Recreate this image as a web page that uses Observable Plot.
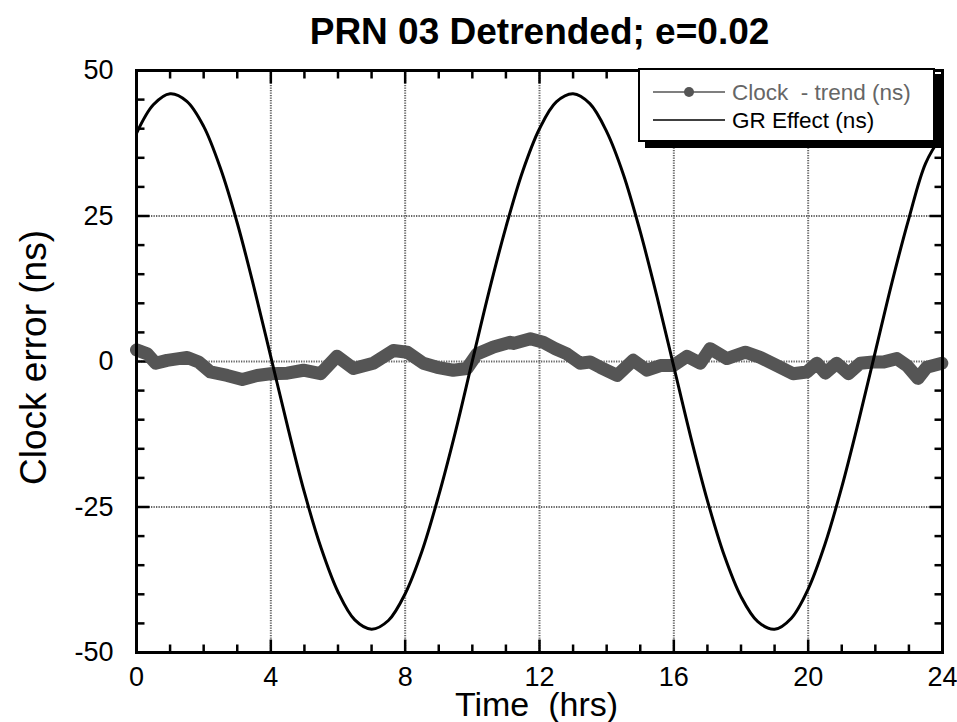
<!DOCTYPE html>
<html>
<head>
<meta charset="utf-8">
<script src="https://cdn.jsdelivr.net/npm/d3@7"></script>
<script src="https://cdn.jsdelivr.net/npm/@observablehq/plot@0.6"></script>
<style>
  html, body { margin: 0; padding: 0; background: #fff; }
  #chart { position: relative; width: 957px; height: 722px; font-family: "Liberation Sans", Arial, sans-serif; }
  #legend { position: absolute; left: 638px; top: 68px; width: 293px; height: 70px; background: #fff;
            border: 2px solid #000; box-shadow: 7px 6px 0 #000; }
  #legend text { white-space: pre; }
</style>
</head>
<body>
<div id="chart"><div id="legend"></div></div>
<script>
// ---- data ----
const title = "PRN 03 Detrended; e=0.02";
const xLabel = "Time  (hrs)";
const yLabel = "Clock error (ns)";
const seriesNames = ["Clock  - trend (ns)", "GR Effect (ns)"];

const xTicks = [0, 4, 8, 12, 16, 20, 24];
const yTicks = [-50, -25, 0, 25, 50];

// GR effect (ns), sampled every 0.5 h from 0 to 24 h
const grHours = [0,0.5,1,1.5,2,2.5,3,3.5,4,4.5,5,5.5,6,6.5,7,7.5,8,8.5,9,9.5,10,10.5,11,11.5,12,
                 12.5,13,13.5,14,14.5,15,15.5,16,16.5,17,17.5,18,18.5,19,19.5,20,20.5,21,21.5,22,22.5,23,23.5,24];
const grValues = [39.2,44.1,46.0,44.7,40.4,33.2,23.8,12.7,0.8,-11.2,-22.5,-32.1,-39.6,-44.4,-46.0,-44.5,
                  -39.9,-32.6,-23.0,-12.0,0.1,12.1,23.1,32.7,40.0,44.6,46.0,44.3,39.5,32.1,22.3,11.1,-0.9,
                  -12.9,-23.9,-33.3,-40.4,-44.7,-46.0,-44.1,-39.1,-31.4,-21.6,-10.3,1.7,13.7,24.6,34.1,39.0];

// Clock - trend (ns)
const clockHours = [0,0.32,0.57,0.91,1.51,1.85,2.2,2.7,3.15,3.59,3.99,4.49,4.97,5.48,5.97,6.46,7.05,7.65,
                    8.06,8.54,8.95,9.43,9.84,10.14,10.63,11.13,11.22,11.73,12.11,12.47,12.82,13.21,13.51,
                    13.81,14.31,14.79,15.2,15.6,15.98,16.39,16.79,17.08,17.58,18.13,18.57,19.07,19.55,19.96,
                    20.26,20.51,20.85,21.2,21.55,21.93,22.23,22.64,22.94,23.27,23.53,23.98];
const clockValues = [2.0,1.3,-0.3,0.2,0.7,-0.1,-1.8,-2.4,-3.1,-2.4,-2.1,-2.0,-1.5,-2.1,0.9,-1.2,-0.3,1.9,
                     1.6,-0.3,-1.0,-1.5,-1.2,1.3,2.5,3.3,3.1,3.9,3.3,2.2,1.3,-0.3,-0.1,-1.0,-2.4,0.2,-1.5,
                     -0.7,-0.7,0.9,-0.3,2.2,0.5,1.6,0.7,-0.7,-2.1,-1.8,-0.3,-2.0,-0.3,-2.1,-0.3,-0.1,-0.1,
                     0.5,-0.7,-2.9,-1.0,-0.3];

// ---- build ----
const gr = grHours.map((t, i) => ({t, v: grValues[i]}));
const clock = clockHours.map((t, i) => ({t, v: clockValues[i]}));

const W = 957, H = 722;
const mL = 136, mR = 15, mT = 70, mB = 70;
const fw = W - mL - mR, fh = H - mT - mB;
const xDom = [0, 24], yDom = [-50, 50];
// convert a pixel length into data units (for inward tick marks)
const pxX = px => px * (xDom[1] - xDom[0]) / fw;
const pxY = px => px * (yDom[1] - yDom[0]) / fh;

const xMajorIn = [4, 8, 12, 16, 20];
const xMinor = d3.range(1, 24).filter(d => d % 4 !== 0);
const yMajorIn = [-25, 0, 25];
const yMinor = d3.range(-45, 50, 5).filter(d => d % 25 !== 0);

// inward tick segments on all four sides (derived from the tick values above)
const tickSegs = [];
for (const [vals, len] of [[xMinor, 8], [xMajorIn, 13]]) {
  for (const v of vals) {
    tickSegs.push({x1: v, x2: v, y1: yDom[0], y2: yDom[0] + pxY(len)});
    tickSegs.push({x1: v, x2: v, y1: yDom[1], y2: yDom[1] - pxY(len)});
  }
}
for (const [vals, len] of [[yMinor, 8], [yMajorIn, 13]]) {
  for (const v of vals) {
    tickSegs.push({x1: xDom[0], x2: xDom[0] + pxX(len), y1: v, y2: v});
    tickSegs.push({x1: xDom[1], x2: xDom[1] - pxX(len), y1: v, y2: v});
  }
}

const plot = Plot.plot({
  width: W, height: H,
  marginLeft: mL, marginRight: mR, marginTop: mT, marginBottom: mB,
  style: {fontFamily: '"Liberation Sans", Arial, sans-serif', background: "#fff", color: "#000"},
  x: {domain: xDom},
  y: {domain: yDom},
  marks: [
    // dotted grid
    Plot.ruleX(xMajorIn, {stroke: "#666", strokeWidth: 2, strokeDasharray: "1.3,1.2"}),
    Plot.ruleY(yMajorIn, {stroke: "#666", strokeWidth: 2, strokeDasharray: "1.3,1.2"}),
    // inward ticks
    Plot.link(tickSegs, {x1: "x1", x2: "x2", y1: "y1", y2: "y2", stroke: "#000", strokeWidth: 2.5}),
    // series
    Plot.line(clock, {x: "t", y: "v", stroke: "#555", strokeWidth: 13, strokeLinejoin: "round", strokeLinecap: "round"}),
    Plot.line(gr, {x: "t", y: "v", stroke: "#000", strokeWidth: 3, curve: "catmull-rom"}),
    Plot.frame({stroke: "#000", strokeWidth: 3}),
    // axes
    Plot.axisX(xTicks, {tickSize: 0, tickPadding: 14, fontSize: 27, label: null, tickFormat: d => String(d)}),
    Plot.axisY(yTicks, {tickSize: 0, tickPadding: 23, fontSize: 27, label: null, tickFormat: d => String(d)}),
    // labels
    Plot.text([title], {frameAnchor: "top", lineAnchor: "middle", textAnchor: "middle", dy: -38, fontSize: 37, fontWeight: "bold"}),
    Plot.text([xLabel], {frameAnchor: "bottom", lineAnchor: "middle", textAnchor: "middle", dy: 53, dx: -3, fontSize: 34}),
    Plot.text([yLabel], {frameAnchor: "left", lineAnchor: "middle", textAnchor: "middle", dx: -102, dy: -4, rotate: -90, fontSize: 37})
  ]
});

const chart = document.getElementById("chart");
chart.insertBefore(plot, chart.firstChild);

// legend
const lg = d3.select("#legend").append("svg").attr("width", 293).attr("height", 70)
  .style("font-family", '"Liberation Sans", Arial, sans-serif');
const rows = [
  {name: seriesNames[0], color: "#555", text: "#666", dot: true, y: 22},
  {name: seriesNames[1], color: "#000", text: "#000", dot: false, y: 50}
];
rows.forEach(r => {
  lg.append("line").attr("x1", 13).attr("x2", 85).attr("y1", r.y).attr("y2", r.y)
    .attr("stroke", r.color).attr("stroke-width", 1.5);
  if (r.dot) lg.append("circle").attr("cx", 49).attr("cy", r.y).attr("r", 5).attr("fill", r.color);
  lg.append("text").attr("x", 92).attr("y", r.y).attr("dy", "0.36em").attr("font-size", 22.5)
    .attr("xml:space", "preserve").attr("fill", r.text).text(r.name);
});
</script>
</body>
</html>
